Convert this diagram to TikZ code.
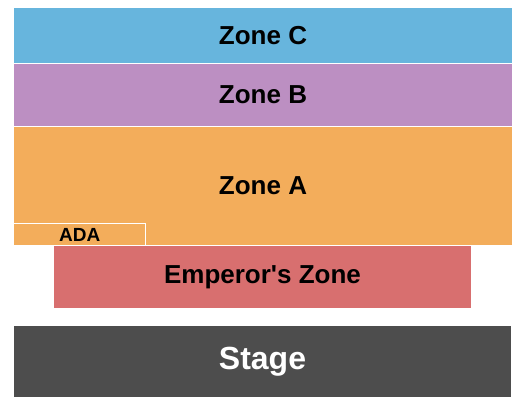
\documentclass[tikz,border=0pt]{standalone}
\usepackage{fontspec}
\setmainfont{Liberation Sans}
\definecolor{zonec}{HTML}{67B5DD}
\definecolor{zoneb}{HTML}{BC8FC2}
\definecolor{zonea}{HTML}{F3AD5B}
\definecolor{emperor}{HTML}{D86F6F}
\definecolor{stagegray}{HTML}{4D4D4D}
\begin{document}
\begin{tikzpicture}[
    x=1pt, y=-1pt,
    zone/.style={
        rectangle,
        inner sep=0pt,
        align=center,
        font=\fontsize{26}{30}\selectfont\bfseries
    },
    small/.style={
        rectangle,
        inner sep=0pt,
        font=\fontsize{19}{22}\selectfont\bfseries
    },
    edge/.style={draw=white, line width=1pt}
]
    \useasboundingbox (0,0) rectangle (525,405);

    \node[zone, fill=zonec, minimum width=498pt, minimum height=55pt] (zc) at (263,35.5)
        {Zone C};

    \node[zone, fill=zoneb, minimum width=498pt, minimum height=62pt] (zb) at (263,95)
        {Zone B};

    \node[zone, fill=zonea, minimum width=498pt, minimum height=118pt] (za) at (263,186)
        {Zone A};

    \node[small, minimum width=131.5pt, minimum height=21pt] (ada) at (79.75,234.5)
        {ADA};
    \draw[edge] (ada.north west) -- (ada.north east) -- (ada.south east);

    \node[zone, fill=emperor, minimum width=417pt, minimum height=62pt] (emp) at (262.5,277)
        {Emperor\textquotesingle s Zone};

    \node[zone, fill=stagegray, text=white, minimum width=497pt, minimum height=71pt,
        font=\fontsize{32}{36}\selectfont\bfseries] (stage) at (262.5,361.5)
        {Stage};
\end{tikzpicture}
\end{document}
